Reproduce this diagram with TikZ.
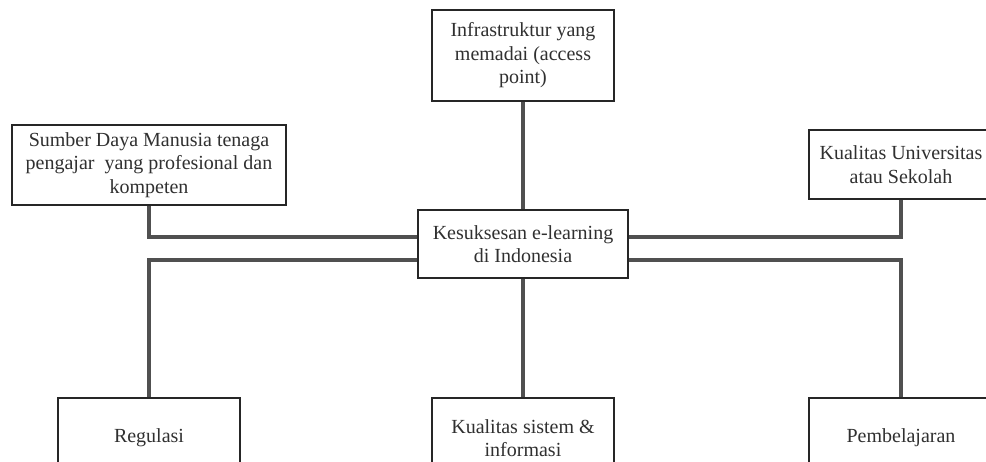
\documentclass[tikz,border=0pt]{standalone}
\usepackage{fontspec}
\setmainfont{Liberation Serif}
\definecolor{boxc}{HTML}{262626}
\definecolor{linec}{HTML}{505050}
\definecolor{txtc}{HTML}{303030}
\begin{document}
\begin{tikzpicture}[x=1pt,y=-1pt,
  box/.style={draw=boxc, line width=2pt, fill=white, rectangle, inner sep=0pt,
    anchor=north west, align=center, font=\fontsize{20}{23.5}\selectfont, text=txtc},
  link/.style={draw=linec, line width=3.5pt}]
\useasboundingbox (0,0) rectangle (986,462);
\clip (0,0) rectangle (986,462);
\fill[white] (0,0) rectangle (986,462);
\coordinate (hu) at (0,237);
\coordinate (hl) at (0,260);
\node[box, minimum width=182pt, minimum height=91pt] (top) at (431,9)
  {Infrastruktur yang\\memadai (access\\point)};
\node[box, minimum width=274pt, minimum height=80pt] (sdm) at (11,124)
  {Sumber Daya Manusia tenaga\\pengajar\ \ yang profesional dan\\kompeten};
\node[box, minimum width=184pt, minimum height=69pt] (univ) at (808,129)
  {Kualitas Universitas\\atau Sekolah};
\node[box, minimum width=210pt, minimum height=68pt] (ctr) at (417,209)
  {Kesuksesan e-learning\\di Indonesia};
\node[box, minimum width=182pt, minimum height=80pt] (reg) at (57,397)
  {Regulasi};
\node[box, minimum width=182pt, minimum height=80pt] (sis) at (431,397)
  {Kualitas sistem \&\\informasi};
\node[box, minimum width=184pt, minimum height=80pt] (pemb) at (808,397)
  {Pembelajaran};
\draw[link] (top.south) -- (ctr.north);
\draw[link] (sdm.south) |- (ctr.west |- hu);
\draw[link] (ctr.west |- hl) -| (reg.north);
\draw[link] (ctr.south) -- (sis.north);
\draw[link] (ctr.east |- hu) -| (univ.south);
\draw[link] (ctr.east |- hl) -| (pemb.north);
\end{tikzpicture}
\end{document}
